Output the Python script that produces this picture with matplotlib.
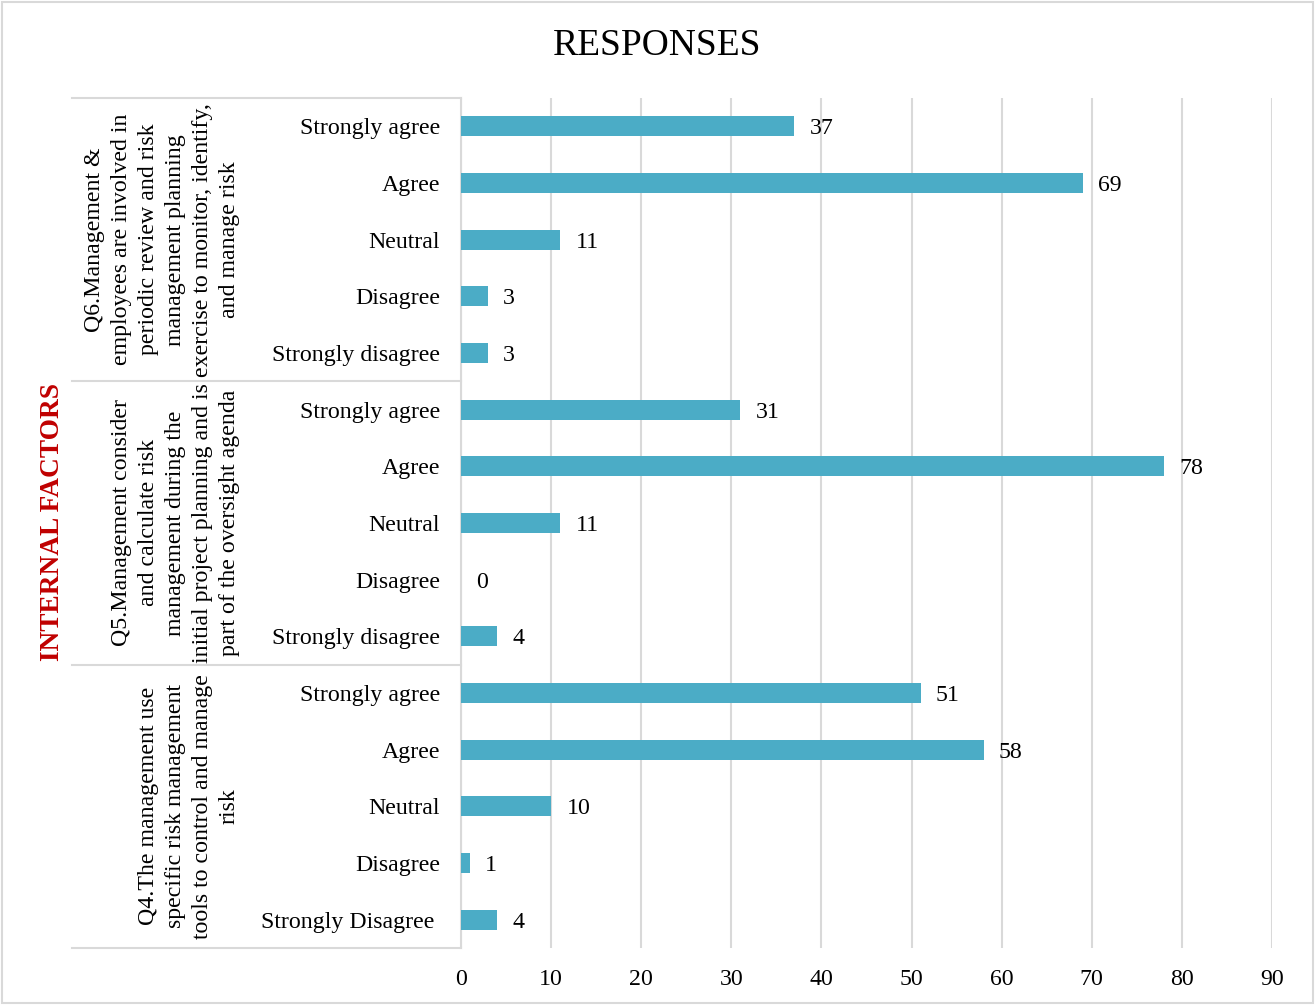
import numpy as np
import matplotlib.pyplot as plt
import matplotlib.transforms as mtransforms
from matplotlib.patches import Rectangle

plt.rcParams['font.family'] = ['Liberation Serif', 'DejaVu Serif']

# Responses per question, top to bottom
categories = ['Strongly agree', 'Agree', 'Neutral', 'Disagree', 'Strongly disagree',
              'Strongly agree', 'Agree', 'Neutral', 'Disagree', 'Strongly disagree',
              'Strongly agree', 'Agree', 'Neutral', 'Disagree', 'Strongly Disagree ']
q6_values = [37, 69, 11, 3, 3]
q5_values = [31, 78, 11, 0, 4]
q4_values = [51, 58, 10, 1, 4]
group_labels = [
    'Q6.Management &\nemployees are involved in\nperiodic review and risk\n'
    'management planning\nexercise to monitor, identify,\nand manage risk',
    'Q5.Management consider\nand calculate risk\nmanagement during the\n'
    'initial project planning and is\npart of the oversight agenda',
    'Q4.The management use\nspecific risk management\ntools to control and manage\nrisk',
]
xticks = list(range(0, 100, 10))

values = q6_values + q5_values + q4_values
y = np.arange(len(values))

bar_color = '#4BACC6'
grid_color = '#D9D9D9'
fs = 17.2

fig = plt.figure(figsize=(13.15, 10.05), dpi=100)
ax = fig.add_axes([461/1315, 1-948/1005, (1272-461)/1315, (948-98)/1005])

ax.barh(y, values, height=0.35, color=bar_color, zorder=3)
for yi, v in zip(y, values):
    ax.annotate(str(v), (v, yi), xytext=(11, 0), textcoords='offset points',
                ha='left', va='center_baseline', fontsize=fs, color='black')

ax.set_xlim(0, 90)
ax.set_ylim(len(values) - 0.5, -0.5)
ax.set_xticks(xticks)
ax.set_yticks(y)
ax.set_yticklabels(categories, va='center_baseline')
ax.tick_params(axis='y', length=0, pad=15, labelsize=fs)
ax.tick_params(axis='x', length=0, pad=15, labelsize=fs)
ax.grid(axis='x', color=grid_color, linewidth=1.5, zorder=0)
for side in ['top', 'right', 'bottom']:
    ax.spines[side].set_visible(False)
ax.spines['left'].set_color(grid_color)
ax.spines['left'].set_linewidth(1.5)

# group separators on the label side
trans = mtransforms.blended_transform_factory(fig.transFigure, ax.transData)
x_start = 72/1315
x_end = 461/1315
for b in [-0.5, 4.5, 9.5, 14.5]:
    ax.plot([x_start, x_end], [b, b], transform=trans, color=grid_color,
            linewidth=1.5, clip_on=False)

# question text for each group
for i, label in enumerate(group_labels):
    yc = i * 5 + 2
    ax.text(240/1315, yc, label, transform=trans, rotation=90, ha='right',
            va='center', multialignment='center', fontsize=fs, linespacing=1.37)

fig.text(53/1315, 1-522/1005, 'INTERNAL FACTORS', rotation=90, ha='center',
         va='center', fontsize=19.7, fontweight='bold', color='#C00000')

fig.text(0.5, 1-46/1005, 'RESPONSES', ha='center', va='center', fontsize=27)

# chart border
fig.patches.append(Rectangle((2/1315, 2/1005), 1311/1315, 1001/1005,
                             transform=fig.transFigure, fill=False,
                             edgecolor=grid_color, linewidth=1.5))

fig.savefig('out.png', dpi=100)
